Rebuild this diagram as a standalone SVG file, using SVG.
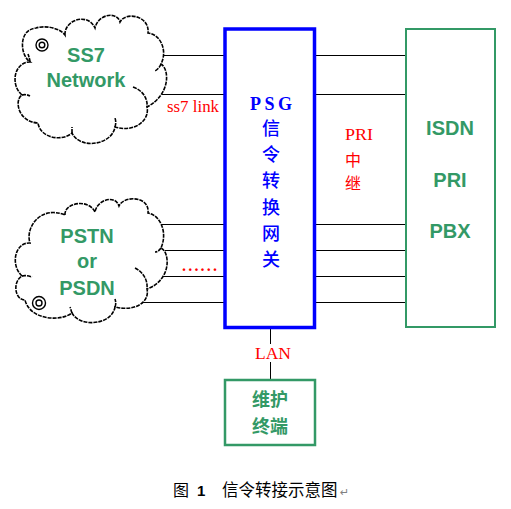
<svg xmlns="http://www.w3.org/2000/svg" width="511" height="509" viewBox="0 0 511 509">
<style>
.cloud{fill:#fff;stroke:#000;stroke-width:1.6;stroke-dasharray:4 1;fill-rule:nonzero}
.curl{fill:none;stroke:#000;stroke-width:1.6;stroke-dasharray:4 1}
.swirl{fill:none;stroke:#000;stroke-width:1.4}
.conn line{stroke:#000;stroke-width:1}
.gtxt{font-family:"Liberation Sans",Arial,sans-serif;font-weight:bold;font-size:20px;fill:#339966;text-anchor:middle}
.red{fill:#ff0000;font-family:"Liberation Serif","Noto Sans CJK SC",serif}
.blue{fill:#0000ff}
.cjk{font-family:"Noto Sans CJK SC",sans-serif}
</style>
<rect width="511" height="509" fill="#fff"/>
<g id="connectors" class="conn">
<line x1="162" y1="55.5" x2="225" y2="55.5"/>
<line x1="162" y1="94.5" x2="225" y2="94.5"/>
<line x1="160" y1="224.5" x2="225" y2="224.5"/>
<line x1="165" y1="250.5" x2="225" y2="250.5"/>
<line x1="163" y1="276.5" x2="225" y2="276.5"/>
<line x1="142" y1="302.5" x2="225" y2="302.5"/>
<line x1="315" y1="55.5" x2="406" y2="55.5"/>
<line x1="315" y1="94.5" x2="406" y2="94.5"/>
<line x1="315" y1="224.5" x2="406" y2="224.5"/>
<line x1="315" y1="250.5" x2="406" y2="250.5"/>
<line x1="315" y1="276.5" x2="406" y2="276.5"/>
<line x1="315" y1="302.5" x2="406" y2="302.5"/>
<line x1="270.5" y1="329" x2="270.5" y2="380"/>
</g>
<g id="ss7-cloud">
<path class="cloud" d="M 65 35 C 64 20, 88 12, 95 28 C 98 14, 117 11, 120 22 C 126 11, 150 16, 148 33 C 160 34, 168 50, 161 64 C 170 70, 170 95, 147 107 C 150 120, 135 133, 115 127 C 112 145, 80 150, 72 133 C 62 142, 40 138, 38 123 C 18 122, 14 100, 22 95 C 10 85, 14 62, 30 62 C 20 55, 18 30, 36 28 C 45 25, 60 28, 65 35 Z"/>
<path class="curl" d="M 161 64 C 160 67, 157 70, 155 71 M 133 87 C 142 90, 148 98, 147 107 M 115 127 C 116 124, 116 121, 115 118 M 72 133 C 72 131, 72 129, 72 127 M 22 95 C 25 94, 28 95, 30 96 M 30 62 C 30 60, 29 57, 28 54"/>
<circle class="swirl" cx="42" cy="45" r="6"/>
<circle class="swirl" cx="42" cy="45" r="2.8"/>
<text class="gtxt" x="86" y="62">SS7</text>
<text class="gtxt" x="86" y="87">Network</text>
</g>
<g id="pstn-cloud">
<path class="cloud" d="M 65 215 C 64 203, 88 198, 95 212 C 97 200, 115 194, 119 206 C 124 195, 150 196, 148 213 C 160 215, 168 232, 161 248 C 170 252, 172 280, 147 289 C 150 302, 135 312, 115 307 C 112 325, 80 328, 72 313 C 60 322, 30 320, 25 300 C 15 300, 12 282, 22 276 C 10 265, 15 242, 30 243 C 25 228, 40 205, 65 215 Z"/>
<path class="curl" d="M 161 248 C 159 251, 157 252, 155 252 M 135 268 C 143 272, 148 280, 147 289 M 115 307 C 116 305, 116 302, 115 299 M 72 313 C 71 311, 71 309, 70 307 M 22 276 C 25 275, 29 276, 32 277"/>
<circle class="swirl" cx="39" cy="303" r="6.5"/>
<circle class="swirl" cx="39" cy="303" r="3"/>
<text class="gtxt" x="87" y="243">PSTN</text>
<text class="gtxt" x="87" y="268">or</text>
<text class="gtxt" x="87" y="295">PSDN</text>
</g>
<g id="psg">
<rect x="225" y="29" width="89.5" height="298.5" fill="#fff" stroke="#0000ff" stroke-width="3.5"/>
<text class="blue" x="250" y="110" font-family="'Liberation Serif',serif" font-weight="bold" font-size="18" textLength="42" lengthAdjust="spacing">PSG</text>
<g class="blue cjk" font-size="18" font-weight="500" text-anchor="middle">
<text x="271" y="135">信</text>
<text x="271" y="161">令</text>
<text x="271" y="187">转</text>
<text x="271" y="214">换</text>
<text x="271" y="240">网</text>
<text x="271" y="266">关</text>
</g>
</g>
<g id="isdn-pbx">
<rect x="406" y="29" width="89" height="298" fill="#fff" stroke="#339966" stroke-width="2"/>
<text class="gtxt" x="450" y="135">ISDN</text>
<text class="gtxt" x="450" y="187">PRI</text>
<text class="gtxt" x="450" y="238">PBX</text>
</g>
<g id="maint">
<rect x="225" y="380" width="90" height="65" fill="#fff" stroke="#339966" stroke-width="2.5"/>
<text class="cjk" x="270" y="406" font-size="18" font-weight="bold" fill="#339966" text-anchor="middle">维护</text>
<text class="cjk" x="270" y="433" font-size="18" font-weight="bold" fill="#339966" text-anchor="middle">终端</text>
</g>
<g id="labels">
<text class="red" x="167" y="112" font-size="16" textLength="52" lengthAdjust="spacingAndGlyphs">ss7 link</text>
<text class="red" x="182" y="271" font-size="16" font-weight="bold" textLength="35" lengthAdjust="spacing">......</text>
<text class="red" x="345" y="140" font-size="17" textLength="28" lengthAdjust="spacingAndGlyphs">PRI</text>
<text class="red cjk" x="353" y="166" font-size="16" text-anchor="middle">中</text>
<text class="red cjk" x="353" y="189" font-size="16" text-anchor="middle">继</text>
<rect x="252" y="344" width="42" height="18" fill="#fff"/>
<text class="red" x="255" y="359" font-size="17" textLength="36" lengthAdjust="spacingAndGlyphs">LAN</text>
</g>
<g id="caption">
<text class="cjk" x="173" y="496" font-size="16" fill="#000">图</text>
<text x="197" y="496" font-family="'Liberation Sans',sans-serif" font-weight="bold" font-size="15" fill="#000">1</text>
<text class="cjk" x="222" y="496" font-size="16.5" fill="#000">信令转接示意图</text>
<text x="340" y="496" font-family="'DejaVu Sans',sans-serif" font-size="11" fill="#808080">↵</text>
</g>
</svg>
